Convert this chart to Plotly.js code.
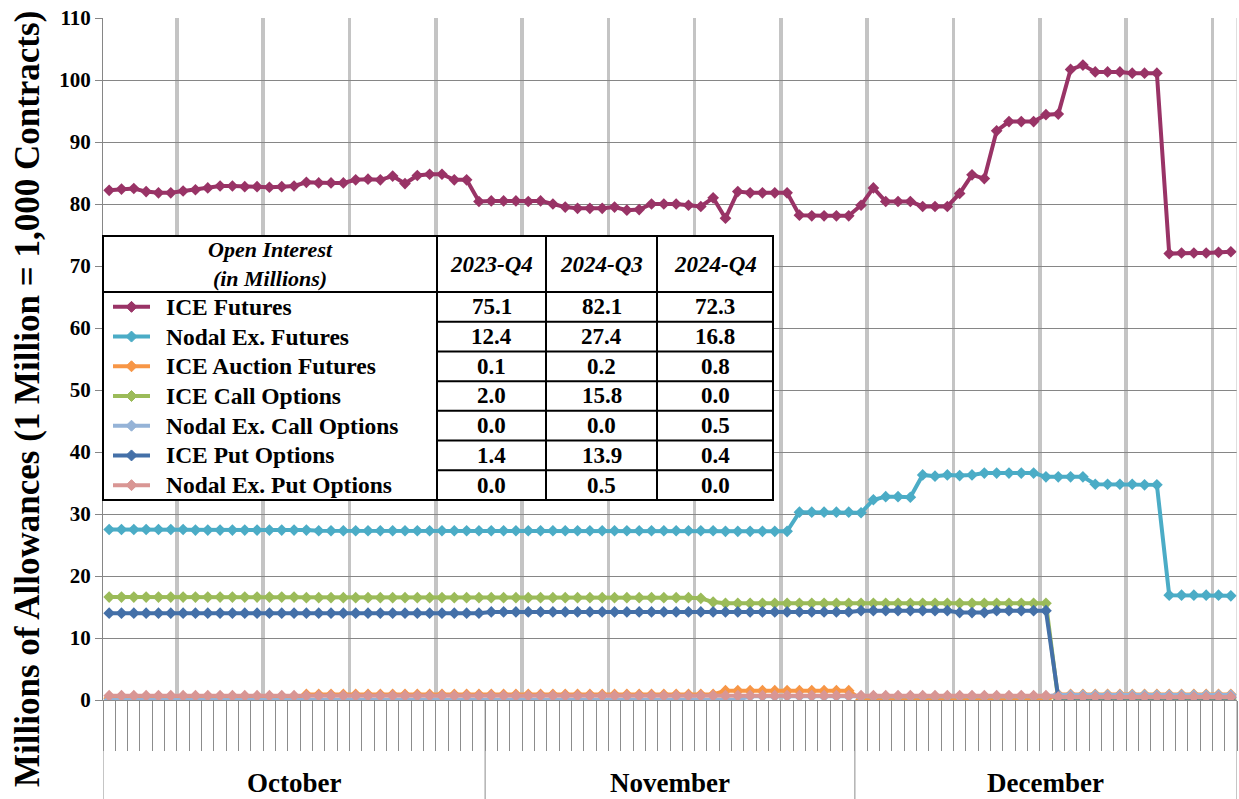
<!DOCTYPE html>
<html><head><meta charset="utf-8">
<script src="https://cdn.plot.ly/plotly-3.0.1.min.js"></script>
<style>html,body{margin:0;padding:0;background:#fff}#chart{width:1239px;height:799px}</style>
</head><body><div id="chart"></div>
<script>
// ---------------- DATA ----------------
const firstDay = '2024-10-01';
const monthNames = ['October', 'November', 'December'];
const monthStarts = ['2024-10-01', '2024-11-01', '2024-12-01', '2025-01-01'];

const seriesNames = ['ICE Futures', 'Nodal Ex. Futures', 'ICE Auction Futures', 'ICE Call Options',
  'Nodal Ex. Call Options', 'ICE Put Options', 'Nodal Ex. Put Options'];

const iceFutures = [
  82.2,82.4,82.5,82.0,81.8,81.8,82.1,82.3,82.6,82.9,
  82.9,82.8,82.8,82.7,82.8,82.9,83.5,83.4,83.4,83.4,
  83.9,84.0,83.9,84.5,83.3,84.6,84.8,84.8,83.9,83.9,
  80.4,80.5,80.5,80.5,80.4,80.5,80.0,79.5,79.3,79.3,
  79.3,79.5,79.0,79.1,80.0,80.0,80.0,79.8,79.6,81.0,
  77.7,82.0,81.8,81.8,81.8,81.8,78.2,78.1,78.1,78.1,
  78.1,79.8,82.6,80.4,80.4,80.4,79.6,79.6,79.6,81.7,
  84.7,84.1,91.8,93.3,93.3,93.3,94.4,94.5,101.7,102.4,
  101.3,101.3,101.3,101.1,101.1,101.1,72.0,72.1,72.1,72.1,
  72.2,72.3];
const nodalFutures = [
  27.5,27.5,27.5,27.5,27.5,27.5,27.5,27.4,27.4,27.4,
  27.4,27.4,27.4,27.4,27.4,27.4,27.4,27.3,27.3,27.3,
  27.3,27.3,27.3,27.3,27.3,27.3,27.3,27.3,27.3,27.3,
  27.3,27.3,27.3,27.3,27.3,27.3,27.3,27.3,27.3,27.3,
  27.3,27.3,27.3,27.3,27.3,27.3,27.3,27.3,27.3,27.3,
  27.2,27.2,27.2,27.2,27.2,27.2,30.3,30.3,30.3,30.3,
  30.3,30.2,32.3,32.8,32.8,32.7,36.3,36.1,36.3,36.2,
  36.3,36.6,36.6,36.6,36.6,36.6,36.0,36.0,36.0,36.0,
  34.8,34.8,34.8,34.8,34.7,34.7,16.9,16.9,16.9,16.9,
  16.9,16.8];
const iceAuctionFutures = [
  0.3,0.3,0.3,0.3,0.3,0.3,0.3,0.3,0.3,0.3,
  0.3,0.3,0.3,0.3,0.3,0.3,0.9,0.9,0.9,0.9,
  0.9,0.9,0.9,0.9,0.9,0.9,0.9,0.9,0.9,0.9,
  0.9,0.9,0.9,0.9,0.9,0.9,0.9,0.9,0.9,0.9,
  0.9,0.9,0.9,0.9,0.9,0.9,0.9,0.9,0.9,0.9,
  1.5,1.5,1.5,1.5,1.5,1.5,1.5,1.5,1.5,1.5,
  1.5,0.1,0.1,0.1,0.1,0.1,0.1,0.1,0.1,0.1,
  0.1,0.1,0.1,0.1,0.1,0.1,0.1,0.9,0.9,0.9,
  0.9,0.9,0.9,0.9,0.9,0.9,0.9,0.9,0.9,0.9,
  0.9,0.9];
const iceCallOptions = [
  16.6,16.6,16.6,16.6,16.6,16.6,16.6,16.6,16.6,16.6,
  16.6,16.6,16.6,16.6,16.6,16.6,16.5,16.5,16.5,16.5,
  16.5,16.5,16.5,16.5,16.5,16.5,16.5,16.5,16.5,16.5,
  16.5,16.5,16.5,16.5,16.5,16.5,16.5,16.5,16.5,16.5,
  16.5,16.5,16.5,16.5,16.5,16.5,16.5,16.5,16.4,15.8,
  15.6,15.6,15.6,15.6,15.6,15.6,15.6,15.6,15.6,15.6,
  15.6,15.6,15.6,15.6,15.6,15.6,15.6,15.6,15.6,15.6,
  15.6,15.6,15.6,15.6,15.6,15.6,15.6,0.0,0.0,0.0,
  0.0,0.0,0.0,0.0,0.0,0.0,0.0,0.0,0.0,0.0,
  0.0,0.0];
const nodalCallOptions = [
  0.0,0.0,0.0,0.0,0.0,0.0,0.0,0.0,0.0,0.0,
  0.0,0.0,0.0,0.0,0.0,0.0,0.0,0.0,0.0,0.0,
  0.0,0.0,0.0,0.0,0.0,0.0,0.0,0.0,0.0,0.0,
  0.0,0.0,0.0,0.0,0.0,0.0,0.0,0.0,0.0,0.0,
  0.0,0.0,0.0,0.0,0.0,0.0,0.0,0.0,0.0,0.0,
  0.0,0.0,0.6,0.6,0.6,0.6,0.6,0.6,0.6,0.6,
  0.6,0.6,0.6,0.6,0.6,0.6,0.6,0.6,0.6,0.6,
  0.6,0.6,0.6,0.6,0.6,0.6,0.6,0.8,0.8,0.8,
  0.8,0.8,0.8,0.8,0.8,0.8,0.8,0.8,0.8,0.8,
  0.8,0.8];
const icePutOptions = [
  14.0,14.0,14.0,14.0,14.0,14.0,14.0,14.0,14.0,14.0,
  14.0,14.0,14.0,14.0,14.0,14.0,14.0,14.0,14.0,14.0,
  14.0,14.0,14.0,14.0,14.0,14.0,14.0,14.0,14.0,14.0,
  14.0,14.2,14.2,14.2,14.2,14.2,14.2,14.2,14.2,14.2,
  14.2,14.2,14.2,14.2,14.2,14.2,14.2,14.2,14.2,14.2,
  14.2,14.2,14.2,14.2,14.2,14.2,14.2,14.2,14.2,14.2,
  14.2,14.4,14.4,14.4,14.4,14.4,14.4,14.4,14.4,14.1,
  14.1,14.1,14.4,14.4,14.4,14.4,14.4,0.4,0.4,0.4,
  0.4,0.4,0.4,0.4,0.4,0.4,0.4,0.4,0.4,0.4,
  0.4,0.4];
const nodalPutOptions = [
  0.7,0.7,0.7,0.7,0.7,0.7,0.7,0.7,0.7,0.7,
  0.7,0.7,0.7,0.7,0.7,0.7,0.7,0.7,0.7,0.7,
  0.7,0.7,0.7,0.7,0.7,0.7,0.7,0.7,0.7,0.7,
  0.7,0.7,0.7,0.7,0.7,0.7,0.7,0.7,0.7,0.7,
  0.7,0.7,0.7,0.7,0.7,0.7,0.7,0.7,0.7,0.7,
  0.7,0.7,0.7,0.7,0.7,0.7,0.7,0.7,0.7,0.7,
  0.7,0.7,0.7,0.7,0.7,0.7,0.7,0.7,0.7,0.7,
  0.7,0.7,0.7,0.7,0.7,0.7,0.7,0.5,0.5,0.5,
  0.5,0.5,0.5,0.5,0.5,0.5,0.5,0.5,0.5,0.5,
  0.5,0.5];

// summary table
const tablePeriods = ['2023-Q4', '2024-Q3', '2024-Q4'];
const oi2023Q4 = ['75.1', '12.4', '0.1', '2.0', '0.0', '1.4', '0.0'];
const oi2024Q3 = ['82.1', '27.4', '0.2', '15.8', '0.0', '13.9', '0.5'];
const oi2024Q4 = ['72.3', '16.8', '0.8', '0.0', '0.5', '0.4', '0.0'];
const yTickVals = [0, 10, 20, 30, 40, 50, 60, 70, 80, 90, 100, 110];

// ---------------- STYLE ----------------
const seriesColors = ['#993366', '#4BACC6', '#F79646', '#9BBB59', '#95B3D7', '#4470A8', '#D99694'];
const FONT = '"Liberation Serif", "Times New Roman", serif';

// dates (daily categories, one per day)
const days = [];
(function () {
  const d0 = new Date(firstDay + 'T12:00:00Z');
  for (let i = 0; i < iceFutures.length; i++) {
    const d = new Date(d0.getTime() + i * 86400000);
    days.push(d.toISOString().slice(0, 10) + ' 12:00');
  }
})();

const allSeries = [iceFutures, nodalFutures, iceAuctionFutures, iceCallOptions,
  nodalCallOptions, icePutOptions, nodalPutOptions];

const traces = allSeries.map((ys, k) => ({
  type: 'scatter', mode: 'lines+markers', name: seriesNames[k],
  x: days, y: ys,
  line: {color: seriesColors[k], width: 4},
  marker: {symbol: 'diamond', size: 9, color: seriesColors[k]},
  hoverinfo: 'skip', cliponaxis: true
}));

// pixel geometry
const L = 103, R = 1237, T = 18, B = 700;
const px = x => (x - L) / (R - L);
const py = y => (B - y) / (B - T);

const shapes = [];
const annotations = [];

// month dividers below axis + right border
monthStarts.forEach(d => {
  shapes.push({type: 'line', xref: 'x', yref: 'paper', x0: d, x1: d, y0: 0, y1: py(799),
    line: {color: '#8c8c8c', width: 1}});
});
shapes.push({type: 'line', xref: 'x', yref: 'paper', x0: monthStarts[3], x1: monthStarts[3], y0: 0, y1: 1,
  line: {color: '#bfbfbf', width: 1}});

// month labels
const monthMid = ['2024-10-16 12:00', '2024-11-16 00:00', '2024-12-16 12:00'];
monthNames.forEach((m, i) => {
  annotations.push({xref: 'x', yref: 'paper', x: monthMid[i], y: py(783), text: '<b>' + m + '</b>',
    showarrow: false, xanchor: 'center', yanchor: 'middle', font: {family: FONT, size: 27, color: '#000'}});
});

// y axis title
annotations.push({xref: 'paper', yref: 'paper', x: px(28), y: py(399), textangle: -90,
  text: '<b>Millions of Allowances (1 Million = 1,000 Contracts)</b>', showarrow: false,
  xanchor: 'center', yanchor: 'middle', font: {family: FONT, size: 35, color: '#000'}});

// ---------------- TABLE ----------------
const tL = 103, tR = 773, tT = 236, tH = 292, tB = 500;
const colX = [437, 546, 657];
const rowH = (tB - tH) / seriesNames.length;
shapes.push({type: 'rect', xref: 'paper', yref: 'paper', layer: 'above',
  x0: px(tL), x1: px(tR), y0: py(tB), y1: py(tT), fillcolor: '#ffffff', line: {color: '#000', width: 2}});
colX.forEach(x => shapes.push({type: 'line', xref: 'paper', yref: 'paper', layer: 'above',
  x0: px(x), x1: px(x), y0: py(tT), y1: py(tB), line: {color: '#000', width: 2}}));
shapes.push({type: 'line', xref: 'paper', yref: 'paper', layer: 'above',
  x0: px(tL), x1: px(tR), y0: py(tH), y1: py(tH), line: {color: '#000', width: 2}});
for (let k = 1; k < seriesNames.length; k++) {
  const y = tH + rowH * k;
  shapes.push({type: 'line', xref: 'paper', yref: 'paper', layer: 'above',
    x0: px(colX[0]), x1: px(tR), y0: py(y), y1: py(y), line: {color: '#000', width: 2}});
}
// header
annotations.push({xref: 'paper', yref: 'paper', x: px((tL + colX[0]) / 2), y: py((tT + tH) / 2),
  text: '<b><i>Open Interest</i></b><br><b><i>(in Millions)</i></b>', showarrow: false,
  xanchor: 'center', yanchor: 'middle', font: {family: FONT, size: 22, color: '#000'}});
const colCenters = [(colX[0] + colX[1]) / 2, (colX[1] + colX[2]) / 2, (colX[2] + tR) / 2];
tablePeriods.forEach((p, j) => annotations.push({xref: 'paper', yref: 'paper', x: px(colCenters[j]),
  y: py((tT + tH) / 2), text: '<b><i>' + p + '</i></b>', showarrow: false, xanchor: 'center', yanchor: 'middle',
  font: {family: FONT, size: 23, color: '#000'}}));
const tableCols = [oi2023Q4, oi2024Q3, oi2024Q4];
seriesNames.forEach((n, k) => {
  const yc = tH + rowH * (k + 0.5);
  // legend sample line + diamond
  shapes.push({type: 'line', xref: 'paper', yref: 'paper', layer: 'above',
    x0: px(113), x1: px(150), y0: py(yc), y1: py(yc), line: {color: seriesColors[k], width: 4}});
  const cx = 131.5, r = 5.5;
  shapes.push({type: 'path', xref: 'paper', yref: 'paper', layer: 'above',
    path: `M ${px(cx)},${py(yc - r)} L ${px(cx + r)},${py(yc)} L ${px(cx)},${py(yc + r)} L ${px(cx - r)},${py(yc)} Z`,
    fillcolor: seriesColors[k], line: {color: seriesColors[k], width: 1}});
  annotations.push({xref: 'paper', yref: 'paper', x: px(164), y: py(yc), text: '<b>' + n + '</b>',
    showarrow: false, xanchor: 'left', yanchor: 'middle', font: {family: FONT, size: 23.5, color: '#000'}});
  tableCols.forEach((col, j) => annotations.push({xref: 'paper', yref: 'paper', x: px(colCenters[j]), y: py(yc),
    text: '<b>' + col[k] + '</b>', showarrow: false, xanchor: 'center', yanchor: 'middle',
    font: {family: FONT, size: 23, color: '#000'}}));
});

const layout = {
  width: 1239, height: 799,
  margin: {l: L, r: 1239 - R, t: T, b: 799 - B, pad: 0},
  paper_bgcolor: '#ffffff', plot_bgcolor: '#ffffff',
  showlegend: false,
  font: {family: FONT, color: '#000'},
  xaxis: {
    type: 'date', range: [monthStarts[0], monthStarts[3]], fixedrange: true,
    showgrid: true, gridcolor: '#c4c4c4', gridwidth: 3.5,
    tick0: '2024-10-07', dtick: 7 * 86400000,
    ticks: 'outside', ticklen: 50, tickcolor: '#8c8c8c', tickwidth: 1,
    showticklabels: false,
    minor: {dtick: 86400000, tick0: monthStarts[0], ticks: 'outside', ticklen: 50,
      tickcolor: '#8c8c8c', tickwidth: 1, showgrid: false},
    showline: true, linecolor: '#8c8c8c', linewidth: 1, zeroline: false
  },
  yaxis: {
    range: [0, 110], tickvals: yTickVals, ticktext: yTickVals.map(v => '<b>' + v + '</b>'),
    fixedrange: true,
    showgrid: true, gridcolor: '#868686', gridwidth: 1,
    ticks: 'outside', ticklen: 7, tickcolor: '#868686',
    tickfont: {family: FONT, size: 21, color: '#000'},
    showline: true, linecolor: '#868686', linewidth: 1, zeroline: false
  },
  shapes: shapes,
  annotations: annotations
};

Plotly.newPlot('chart', traces, layout, {displayModeBar: false, staticPlot: true});
</script>
</body></html>
